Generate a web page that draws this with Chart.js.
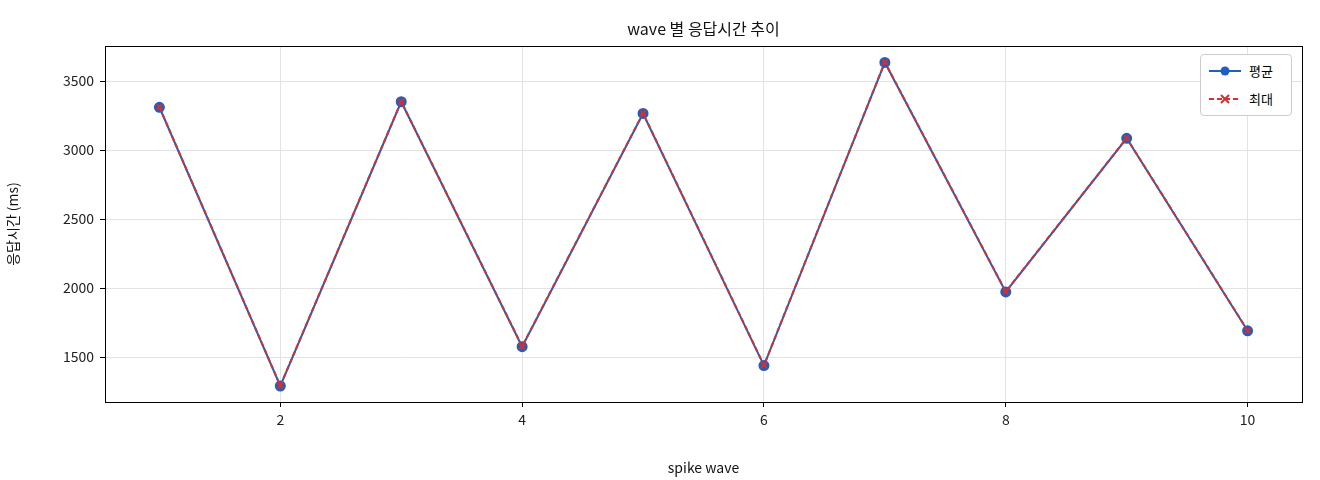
<!DOCTYPE html>
<html><head><meta charset="utf-8">
<script src="https://cdn.jsdelivr.net/npm/chart.js@4"></script>
<style>body{margin:0;background:#fff}#w{position:relative;width:1320px;height:480px}
#lg{position:absolute;left:1200px;top:54px;width:92px;height:62px;border:1px solid #ccc;border-radius:4px;background:#fff;font:13px "Noto Sans CJK KR";box-sizing:border-box}
.r{position:absolute;left:8px;display:flex;align-items:center}.r span{margin-left:8px}</style></head>
<body><div id="w"><canvas id="c" width="1320" height="480"></canvas>
<div id="lg"><div class="r" style="top:6px"><svg width="32" height="12"><line x1="0" y1="6" x2="32" y2="6" stroke="#1f5fbf" stroke-width="2"/><circle cx="16" cy="6" r="4.5" fill="#1f5fbf"/></svg><span>평균</span></div>
<div class="r" style="top:34px"><svg width="32" height="12"><line x1="0" y1="6" x2="32" y2="6" stroke="#d62f2f" stroke-width="2" stroke-dasharray="5,3"/><path d="M12 2L20 10M20 2L12 10" stroke="#d62f2f" stroke-width="2"/></svg><span>최대</span></div></div></div>
<script>
const waves=[1,2,3,4,5,6,7,8,9,10];
const avgMs=[3310,1290,3350,1575,3265,1438,3635,1972,3085,1690];
const maxMs=[3312,1292,3352,1577,3267,1440,3637,1974,3087,1692];
const xTicks=[2,4,6,8,10];
const yTicks=[1500,2000,2500,3000,3500];
const F='"Noto Sans CJK KR","Noto Sans"';
const titlePlugin={id:'t',afterDraw(c){const x=c.ctx,a=c.chartArea;x.save();x.font='16px '+F;x.fillStyle='#111';x.textAlign='center';x.fillText('wave 별 응답시간 추이',(a.left+a.right)/2,35);
x.strokeStyle='#000';x.lineWidth=1;x.strokeRect(a.left+0.5,a.top+0.5,a.right-a.left,a.bottom-a.top);x.restore();}};
new Chart(document.getElementById('c'),{type:'line',data:{datasets:[
{data:waves.map((w,i)=>({x:w,y:avgMs[i]})),order:2,borderColor:'#1f5fbf',backgroundColor:'#1f5fbf',borderWidth:2,pointRadius:4.5,pointStyle:'circle'},
{data:waves.map((w,i)=>({x:w,y:maxMs[i]})),order:1,borderColor:'#d62f2f',backgroundColor:'#d62f2f',borderWidth:2,borderDash:[5,3],pointRadius:4,pointStyle:'crossRot',pointBorderWidth:2}]},
options:{responsive:false,animation:false,layout:{padding:{left:0,right:18,top:46,bottom:0}},
plugins:{legend:{display:false},tooltip:{enabled:false}},
scales:{x:{type:'linear',min:0.55,max:10.45,afterBuildTicks(s){s.ticks=xTicks.map(v=>({value:v}))},afterFit(s){s.height=78},
grid:{color:'#e3e3e3',drawTicks:true,tickColor:'#000',tickLength:5},border:{display:false},ticks:{color:'#222',font:{family:F,size:14},padding:4},
title:{display:true,text:'spike wave',color:'#111',font:{family:F,size:14},padding:{top:8}}},
y:{min:1174,max:3754,afterBuildTicks(s){s.ticks=yTicks.map(v=>({value:v}))},afterFit(s){s.width=105},
grid:{color:'#e3e3e3',tickColor:'#000',tickLength:5},border:{display:false},ticks:{color:'#222',font:{family:F,size:14},padding:6,callback:v=>String(v)},
title:{display:true,text:'응답시간 (ms)',color:'#111',font:{family:F,size:14},padding:{bottom:0}}}}},plugins:[titlePlugin]});
</script></body></html>
